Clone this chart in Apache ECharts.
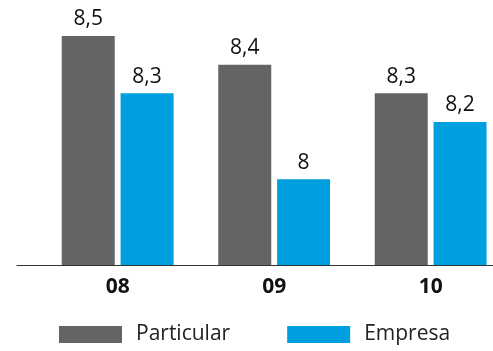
<!DOCTYPE html>
<html>
<head>
<meta charset="utf-8">
<script src="https://cdn.jsdelivr.net/npm/echarts@6/dist/echarts.min.js"></script>
<style>
  html, body { margin: 0; padding: 0; background: #fff; }
  #chart { width: 493px; height: 351px; }
</style>
</head>
<body>
<div id="chart"></div>
<script>
// Grouped bars: average rating by year, private vs business customers
const years = ['08', '09', '10'];
const particular = [8.5, 8.4, 8.3];
const empresa = [8.3, 8.0, 8.2];
const seriesNames = ['Particular', 'Empresa'];

const FONT = '"Open Sans", "Noto Sans", sans-serif';
const fmt = v => String(v.value).replace('.', ',');

const chart = echarts.init(document.getElementById('chart'));

const valueLabel = {
  show: true,
  position: 'top',
  distance: 6,
  color: '#111',
  fontFamily: FONT,
  fontSize: 21,
  formatter: fmt
};

chart.setOption({
  animation: false,
  legend: {
    left: 59,
    top: 324,
    padding: 0,
    itemWidth: 63,
    itemHeight: 17,
    itemGap: 57,
    icon: 'rect',
    textStyle: {
      fontFamily: FONT,
      fontSize: 21,
      color: '#222',
      padding: [0, 0, 0, 9]
    },
    data: seriesNames
  },
  grid: [
    // bar grid is slightly wider than the canvas so the groups sit where wanted
    { left: 39.4, width: 469.5, top: 36, bottom: 86, outerBoundsMode: 'none', containLabel: false },
    { left: 17, right: 0, top: 36, bottom: 86, outerBoundsMode: 'none' }
  ],
  xAxis: [
    {
      type: 'category',
      gridIndex: 0,
      data: years,
      axisLine: { show: false },
      axisTick: { show: false },
      axisLabel: {
        margin: 12,
        color: '#111',
        fontFamily: FONT,
        fontSize: 21,
        fontWeight: 'bold'
      }
    },
    {
      type: 'category',
      gridIndex: 1,
      data: years,
      axisLine: { show: true, lineStyle: { color: '#333', width: 1.2 } },
      axisTick: { show: false },
      axisLabel: { show: false }
    }
  ],
  yAxis: [
    { type: 'value', gridIndex: 0, min: 7.7, max: 8.5, show: false },
    { type: 'value', gridIndex: 1, min: 7.7, max: 8.5, show: false }
  ],
  series: [
    {
      name: seriesNames[0],
      type: 'bar',
      xAxisIndex: 0,
      yAxisIndex: 0,
      data: particular,
      barWidth: 53,
      barGap: '11%',
      itemStyle: { color: '#646464' },
      label: valueLabel
    },
    {
      name: seriesNames[1],
      type: 'bar',
      xAxisIndex: 0,
      yAxisIndex: 0,
      data: empresa,
      barWidth: 53,
      barGap: '11%',
      itemStyle: { color: '#009fdf' },
      label: valueLabel
    }
  ]
});
</script>
</body>
</html>
